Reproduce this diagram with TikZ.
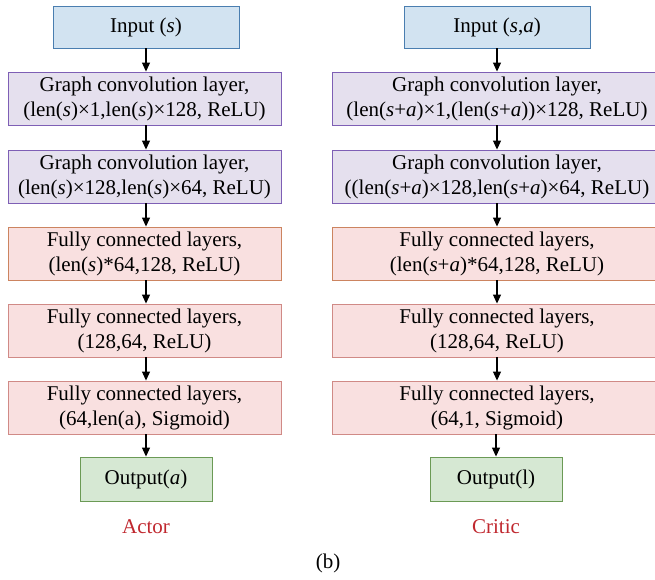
\documentclass[tikz,border=0pt]{standalone}
\usepackage{fontspec}
\setmainfont{Liberation Serif}
\usetikzlibrary{arrows.meta}
\definecolor{inFill}{HTML}{D2E3F1}
\definecolor{inDraw}{HTML}{4A7EB0}
\definecolor{gcFill}{HTML}{E5E0EE}
\definecolor{gcDraw}{HTML}{7E5FB5}
\definecolor{fcFill}{HTML}{F9E0E0}
\definecolor{fcDraw}{HTML}{D08A86}
\definecolor{fcDrawA}{HTML}{CC8460}
\definecolor{outFill}{HTML}{D6E8D3}
\definecolor{outDraw}{HTML}{6B9A55}
\definecolor{lblRed}{HTML}{C0282F}
\tikzset{
  x=1pt, y=-1pt,
  box/.style={draw, line width=0.9pt, inner sep=0pt, align=center, font=\fontsize{21}{25}\selectfont},
  inbox/.style={box, fill=inFill, draw=inDraw, minimum width=186pt, minimum height=42pt},
  gcbox/.style={box, fill=gcFill, draw=gcDraw, minimum width=273pt, minimum height=53pt},
  gcboxr/.style={gcbox, minimum width=330pt},
  fcbox/.style={box, fill=fcFill, draw=fcDraw, minimum width=273pt, minimum height=53pt},
  fcboxr/.style={fcbox, minimum width=330pt},
  outbox/.style={box, fill=outFill, draw=outDraw, minimum width=132pt, minimum height=44pt},
  lbl/.style={text=lblRed, font=\fontsize{21}{24}\selectfont},
  arr/.style={-{Triangle[length=9pt,width=8pt]}, line width=1.1pt, black}
}
\begin{document}
\begin{tikzpicture}
\useasboundingbox (0,0) rectangle (655,579);
% Actor
\node[inbox] (ain) at (146,27) {Input (\textit{s})};
\node[gcbox] (agc1) at (144.5,98.5) {Graph convolution layer,\\(len(\textit{s})×1,len(\textit{s})×128, ReLU)};
\node[gcbox] (agc2) at (144.5,176.5) {Graph convolution layer,\\(len(\textit{s})×128,len(\textit{s})×64, ReLU)};
\node[fcbox, draw=fcDrawA] (afc1) at (144.5,253.5) {Fully connected layers,\\(len(\textit{s})*64,128, ReLU)};
\node[fcbox] (afc2) at (144.5,330.5) {Fully connected layers,\\(128,64, ReLU)};
\node[fcbox] (afc3) at (144.5,407.5) {Fully connected layers,\\(64,len(a), Sigmoid)};
\node[outbox] (aout) at (146,479) {Output(\textit{a})};
\node[lbl] (alab) at (146,527) {Actor};
% Critic
\node[inbox] (cin) at (497,27) {Input (\textit{s},\textit{a})};
\node[gcboxr] (cgc1) at (497,98.5) {Graph convolution layer,\\(len(\textit{s}+\textit{a})×1,(len(\textit{s}+\textit{a}))×128, ReLU)};
\node[gcboxr] (cgc2) at (497,176.5) {Graph convolution layer,\\((len(\textit{s}+\textit{a})×128,len(\textit{s}+\textit{a})×64, ReLU)};
\node[fcboxr, draw=fcDrawA] (cfc1) at (497,253.5) {Fully connected layers,\\(len(\textit{s}+\textit{a})*64,128, ReLU)};
\node[fcboxr] (cfc2) at (497,330.5) {Fully connected layers,\\(128,64, ReLU)};
\node[fcboxr] (cfc3) at (497,407.5) {Fully connected layers,\\(64,1, Sigmoid)};
\node[outbox] (cout) at (496,479) {Output(l)};
\node[lbl] (clab) at (496,527) {Critic};
\node[font=\fontsize{21}{24}\selectfont] (cap) at (328,563) {(b)};
% arrows
\foreach \a/\b in {ain/agc1,agc1/agc2,agc2/afc1,afc1/afc2,afc2/afc3}
  \draw[arr] (\a.south -| ain) -- (\b.north -| ain);
\draw[arr] (afc3.south -| aout) -- (aout.north);
\foreach \a/\b in {cin/cgc1,cgc1/cgc2,cgc2/cfc1,cfc1/cfc2,cfc2/cfc3}
  \draw[arr] (\a.south -| cin) -- (\b.north -| cin);
\draw[arr] (cfc3.south -| cout) -- (cout.north);
\end{tikzpicture}
\end{document}
